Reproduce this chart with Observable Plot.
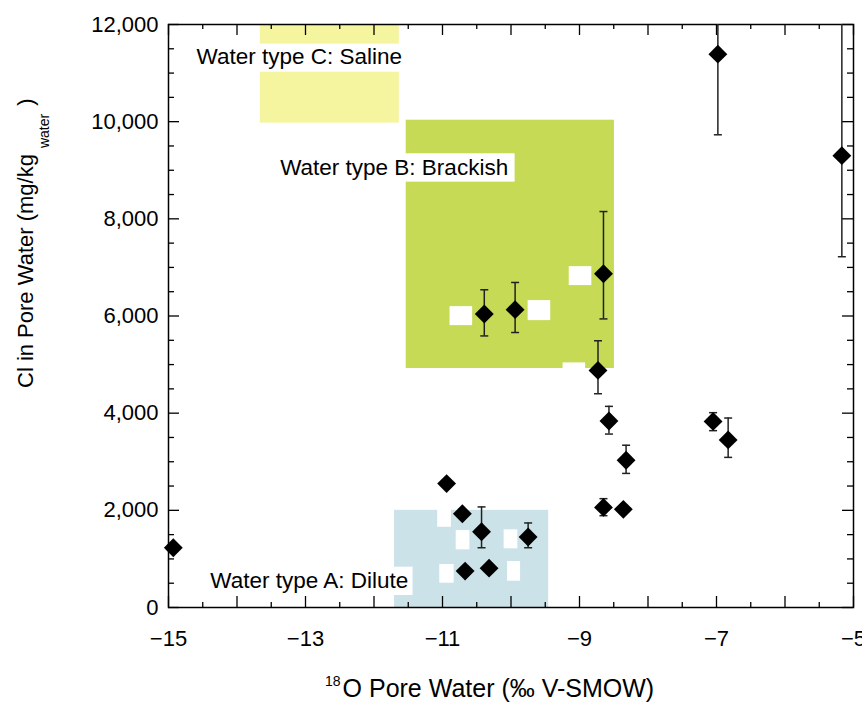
<!DOCTYPE html>
<html>
<head>
<meta charset="utf-8">
<script src="https://cdn.jsdelivr.net/npm/d3@7"></script>
<script src="https://cdn.jsdelivr.net/npm/@observablehq/plot@0.6"></script>
<style>
  html, body { margin: 0; padding: 0; background: white; }
  svg { display: block; }
</style>
</head>
<body>
<div id="chart"></div>
<script>
// ---------- data ----------
const d18O     = [-14.93, -10.94, -10.71, -10.43, -9.75, -10.67, -10.32, -10.39, -9.94, -8.65, -8.73, -8.57, -8.32, -8.65, -8.36, -7.05, -6.83, -6.98, -5.17];
const chloride = [1230, 2550, 1930, 1560, 1450, 750, 810, 6040, 6130, 6870, 4880, 3840, 3030, 2060, 2020, 3830, 3450, 11390, 9300];
const clLow    = [null, null, null, 1230, 1230, null, null, 5590, 5660, 5940, 4400, 3570, 2760, 1890, null, 3640, 3090, 9730, 7220];
const clHigh   = [null, null, null, 2070, 1740, null, null, 6540, 6690, 8150, 5490, 4140, 3340, 2240, null, 4010, 3900, 13000, 13000];

// water type fields
const waterType = ["A", "B", "C"];
const typeX1 = [-11.70, -11.53, -13.66];
const typeX2 = [-9.45, -8.49, -11.63];
const typeY1 = [0, 4920, 9970];
const typeY2 = [2000, 10030, 12000];

// water type labels
const labelText = ["Water type A: Dilute", "Water type B: Brackish", "Water type C: Saline"];
const labelX  = [-14.39, -13.37, -14.59];
const labelY  = [540, 9047, 11340];
const labelBgX1 = [-14.47, -13.44, -14.66];
const labelBgX2 = [-11.43, -9.94, -11.47];
const labelBgY1 = [247, 8755, 11019];
const labelBgY2 = [830, 9339, 11595];

// blanked-out sample labels
const maskX1 = [-10.89, -9.75, -9.15, -9.24, -11.07, -10.80, -10.10, -11.04, -10.05];
const maskX2 = [-10.56, -9.42, -8.82, -8.91, -10.87, -10.60, -9.90, -10.83, -9.86];
const maskY1 = [5802, 5905, 6626, 4650, 1652, 1187, 1208, 500, 541];
const maskY2 = [6193, 6317, 7016, 5035, 2100, 1584, 1599, 885, 947];

// ticks
const yLabelTicks = [0, 2000, 4000, 6000, 8000, 10000, 12000];
const yMinorTicks = [500, 1000, 1500, 2500, 3000, 3500, 4500, 5000, 5500, 6500, 7000, 7500, 8500, 9000, 9500, 10500, 11000, 11500];
const xLabelTicks = [-15, -13, -11, -9, -7, -5];
const xMajorTicks = [-15, -14, -13, -12, -11, -10, -9, -8, -7, -6, -5];
const xMinorTicks = [-14.5, -13.5, -12.5, -11.5, -10.5, -9.5, -8.5, -7.5, -6.5, -5.5];

const xTitleSup = "18";
const xTitleMain = "O Pore Water (‰ V-SMOW)";
const yTitleMain = "Cl in Pore Water (mg/kg";
const yTitleSub = "water";
const yTitleEnd = ")";

// ---------- tables ----------
const samples = d18O.map((x, i) => ({x, y: chloride[i], lo: clLow[i], hi: clHigh[i]}));
const errs = samples.filter(d => d.lo != null);
const caps = errs.flatMap(d => [{x: d.x, y: d.lo}, {x: d.x, y: d.hi}]);
const fields = waterType.map((t, i) => ({t, x1: typeX1[i], x2: typeX2[i], y1: typeY1[i], y2: typeY2[i]}));
const labels = labelText.map((t, i) => ({t, x: labelX[i], y: labelY[i], x1: labelBgX1[i], x2: labelBgX2[i], y1: labelBgY1[i], y2: labelBgY2[i]}));
const masks = maskX1.map((x1, i) => ({x1, x2: maskX2[i], y1: maskY1[i], y2: maskY2[i]}));

const fieldColor = {A: "#cbe2e8", B: "#c6da55", C: "#f5f5a0"};

// ---------- layout ----------
const W = 862, H = 708;
const mL = 168, mR = 9, mT = 24, mB = 101;
const pW = W - mL - mR, pH = H - mT - mB;

const capSymbol = {draw(ctx) { ctx.moveTo(-4, 0); ctx.lineTo(4, 0); }};

const chart = Plot.plot({
  width: W, height: H,
  marginLeft: mL, marginRight: mR, marginTop: mT, marginBottom: mB,
  style: {fontFamily: "'Liberation Sans', Arial, Helvetica, sans-serif", fontSize: "22px", background: "white", color: "black"},
  x: {domain: [-15, -5]},
  y: {domain: [0, 12000]},
  marks: [
    Plot.rect(fields, {x1: "x1", x2: "x2", y1: "y1", y2: "y2", fill: d => fieldColor[d.t]}),
    Plot.rect(labels, {x1: "x1", x2: "x2", y1: "y1", y2: "y2", fill: "white"}),
    Plot.rect(masks, {x1: "x1", x2: "x2", y1: "y1", y2: "y2", fill: "white"}),
    Plot.text(labels, {x: "x", y: "y", text: "t", textAnchor: "start", fontSize: 22.5, fill: "black"}),
    // inward ticks
    Plot.tickY(yLabelTicks, {y: d => d, insetRight: pW - 11, stroke: "black", strokeWidth: 1.3}),
    Plot.tickY(yMinorTicks, {y: d => d, insetRight: pW - 6, stroke: "black", strokeWidth: 1.3}),
    Plot.tickY(yLabelTicks, {y: d => d, insetLeft: pW - 11, stroke: "black", strokeWidth: 1.3}),
    Plot.tickY(yMinorTicks, {y: d => d, insetLeft: pW - 6, stroke: "black", strokeWidth: 1.3}),
    Plot.tickX(xMajorTicks, {x: d => d, insetTop: pH - 11, stroke: "black", strokeWidth: 1.3}),
    Plot.tickX(xMinorTicks, {x: d => d, insetTop: pH - 5, stroke: "black", strokeWidth: 1.3}),
    Plot.tickX(xMajorTicks, {x: d => d, insetBottom: pH - 11, stroke: "black", strokeWidth: 1.3}),
    Plot.tickX(xMinorTicks, {x: d => d, insetBottom: pH - 5, stroke: "black", strokeWidth: 1.3}),
    Plot.frame({stroke: "black", strokeWidth: 1.5}),
    Plot.axisY({ticks: yLabelTicks, tickSize: 0, tickPadding: 10, tickFormat: d3.format(","), fontSize: 22, label: null}),
    Plot.axisX({ticks: xLabelTicks, tickSize: 0, tickPadding: 23, tickFormat: d3.format(""), fontSize: 22, label: null}),
    // error bars
    Plot.ruleX(errs, {x: "x", y1: "lo", y2: "hi", stroke: "#222", strokeWidth: 1.5, clip: true}),
    Plot.dot(caps, {x: "x", y: "y", symbol: capSymbol, r: 4, fill: "none", stroke: "#222", strokeWidth: 1.5, clip: true}),
    // samples
    Plot.dot(samples, {x: "x", y: "y", symbol: "diamond2", r: 8.5, fill: "black", stroke: "none"})
  ]
});

document.getElementById("chart").appendChild(chart);

// axis titles with super/subscripts
const svg = d3.select(chart);
const xt = svg.append("text")
  .attr("x", 325).attr("y", 697)
  .attr("text-anchor", "start")
  .attr("font-family", "'Liberation Sans', Arial, sans-serif")
  .attr("fill", "black");
xt.append("tspan").attr("font-size", 14).attr("dy", -11).text(xTitleSup);
xt.append("tspan").attr("font-size", 25).attr("dy", 11).attr("dx", 2).text(xTitleMain);

const yt = svg.append("text")
  .attr("transform", "translate(33,388) rotate(-90)")
  .attr("text-anchor", "start")
  .attr("font-family", "'Liberation Sans', Arial, sans-serif")
  .attr("fill", "black");
yt.append("tspan").attr("font-size", 22).text(yTitleMain);
yt.append("tspan").attr("font-size", 14).attr("dx", 6).attr("dy", 16).text(yTitleSub);
yt.append("tspan").attr("font-size", 22).attr("dx", 8).attr("dy", -16).text(yTitleEnd);
</script>
</body>
</html>
